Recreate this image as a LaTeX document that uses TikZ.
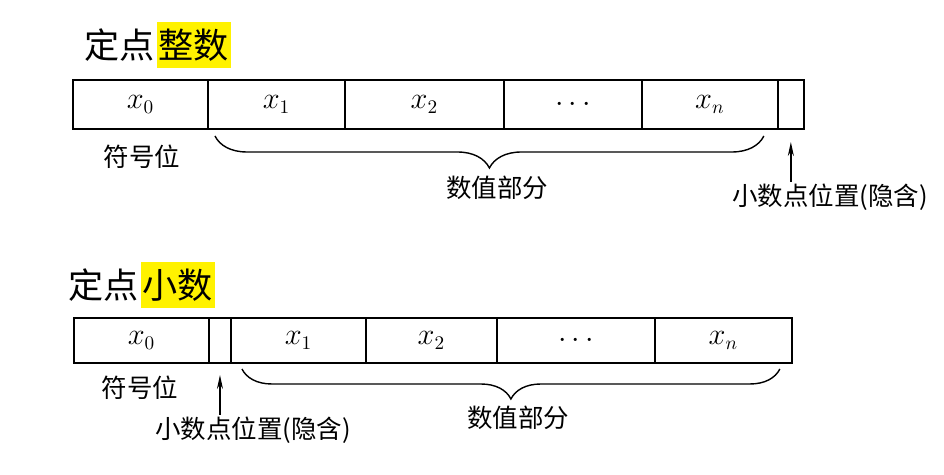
\documentclass[tikz,border=0pt]{standalone}
\usepackage{fontspec}
\newfontfamily\cjk{Noto Sans CJK SC}
\usetikzlibrary{positioning,arrows.meta,decorations.pathreplacing}

\begin{document}
\begin{tikzpicture}
  [x=0.02cm, y=-0.02cm,
   cell/.style={draw,line width=0.9pt,outer sep=0pt,inner sep=0pt,
                minimum height=0.98cm,font=\fontsize{16pt}{19pt}\selectfont},
   title/.style={inner xsep=1pt,inner ysep=4pt,font=\cjk\fontsize{20pt}{24pt}\selectfont},
   hilite/.style={fill=yellow},
   note/.style={inner sep=1pt,font=\cjk\fontsize{14.5pt}{17pt}\selectfont},
   bracket/.style={decorate,line width=0.8pt,decoration={brace,mirror,amplitude=#1}},
   pointer/.style={line width=0.9pt,-{Stealth[length=0.28cm,width=0.12cm]}}]
  \useasboundingbox (0,0) rectangle (944,474);
  % fixed-point integer
  \node at (82,45) (t1a) [title,anchor=west] {定点};
  \node (t1b) [title,hilite,right=0pt of t1a] {整数};
  \node at (73,104.5) (a0) [cell,minimum width=2.70cm,anchor=west] {$x_0$};
  \node (a1) [cell,minimum width=2.74cm,right=0pt of a0] {$x_1$};
  \node (a2) [cell,minimum width=3.18cm,right=0pt of a1] {$x_2$};
  \node (a3) [cell,minimum width=2.76cm,right=0pt of a2] {$\cdots$};
  \node (a4) [cell,minimum width=2.72cm,right=0pt of a3] {$x_n$};
  \node (a5) [cell,minimum width=0.52cm,right=0pt of a4] {};
  \draw [bracket=0.64cm] ([shift={(0.14cm,-0.14cm)}]a1.south west)
                      -- ([shift={(-0.28cm,-0.14cm)}]a4.south east);
  \node at (142,157) (s1) [note] {符号位};
  \node at (497,188) (v1) [note] {数值部分};
  \node at (830,197) (p1) [note] {小数点位置(隐含)};
  \draw [pointer] (a5.south |- p1.north) -- ([yshift=-0.26cm]a5.south);
  % fixed-point fraction
  \node at (66,285) (t2a) [title,anchor=west] {定点};
  \node (t2b) [title,hilite,right=0pt of t2a] {小数};
  \node at (74,340.5) (b0) [cell,minimum height=0.90cm,minimum width=2.70cm,anchor=west] {$x_0$};
  \node (b1) [cell,minimum height=0.90cm,minimum width=0.44cm,right=0pt of b0] {};
  \node (b2) [cell,minimum height=0.90cm,minimum width=2.70cm,right=0pt of b1] {$x_1$};
  \node (b3) [cell,minimum height=0.90cm,minimum width=2.62cm,right=0pt of b2] {$x_2$};
  \node (b4) [cell,minimum height=0.90cm,minimum width=3.16cm,right=0pt of b3] {$\cdots$};
  \node (b5) [cell,minimum height=0.90cm,minimum width=2.74cm,right=0pt of b4] {$x_n$};
  \draw [bracket=0.60cm] ([shift={(0.22cm,-0.12cm)}]b2.south west)
                      -- ([shift={(-0.24cm,-0.12cm)}]b5.south east);
  \node at (140,388) (s2) [note] {符号位};
  \node at (518,418) (v2) [note] {数值部分};
  \node at (253,430) (p2) [note] {小数点位置(隐含)};
  \draw [pointer] (b1.south |- p2.north) -- ([yshift=-0.24cm]b1.south);
\end{tikzpicture}
\end{document}
